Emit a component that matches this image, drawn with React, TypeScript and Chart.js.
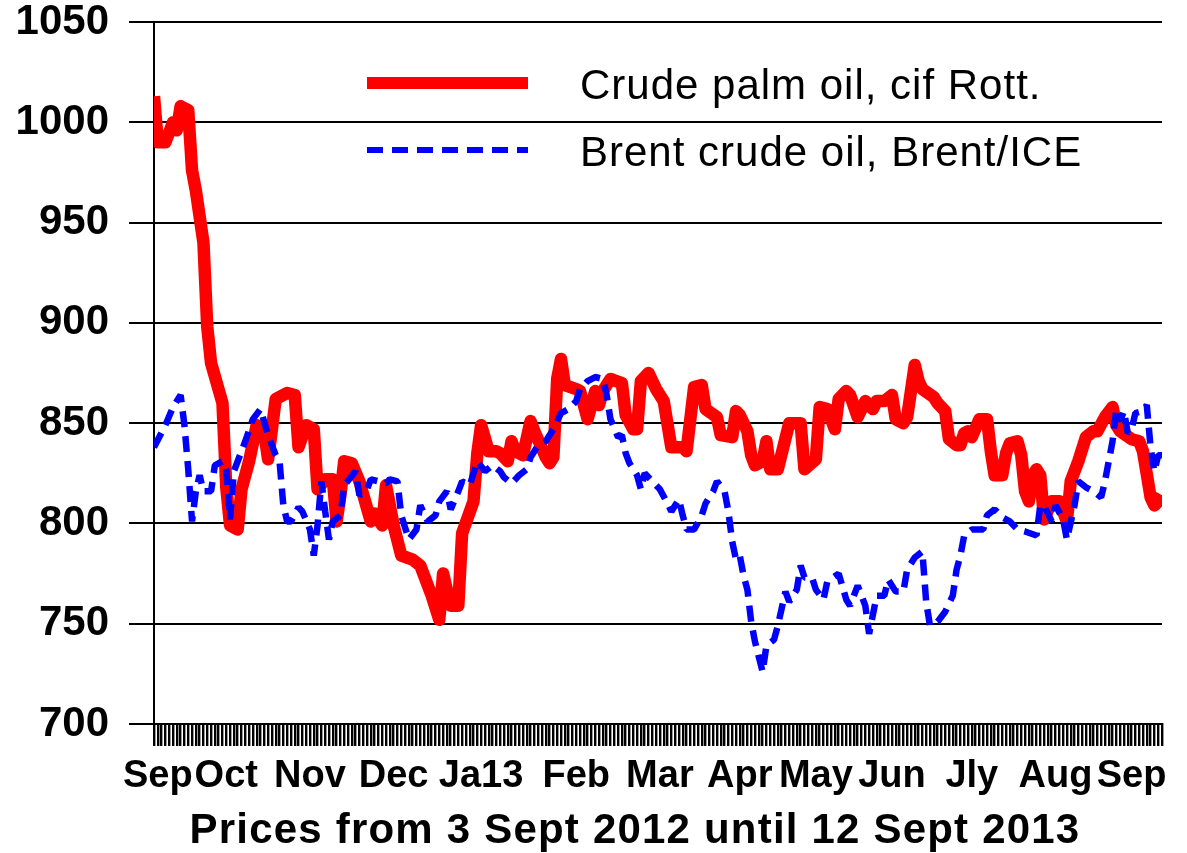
import React, { useEffect, useRef } from "react";
import { Chart, registerables } from "chart.js";

Chart.register(...registerables);

// Trading-day index (0 = 3 Sept 2012, 265 = 12 Sept 2013) and prices (USD/t)
const palmDays = [0,1,3,5,6,7,9,10,11,13,14,15,18,19,20,22,23,25,27,29,30,32,35,37,38,40,42,43,45,47,48,49,50,52,54,57,58,60,61,63,65,68,70,73,75,76,78,80,81,84,85,86,88,90,91,93,94,95,97,99,100,103,104,105,106,107,108,111,112,114,116,117,118,120,123,124,126,127,128,130,132,134,136,139,140,142,144,145,148,149,152,153,154,156,157,158,160,161,162,164,167,170,171,174,175,177,179,180,182,183,185,187,189,190,192,194,195,197,198,200,201,202,205,206,208,209,211,212,213,214,215,217,219,220,221,223,224,225,227,228,229,230,231,232,233,234,236,238,240,241,243,245,247,248,250,252,253,254,257,259,260,262,263,264,265];
const palmPrices = [1013,990,990,1000,996,1008,1006,976,966,940,898,880,860,818,799,797,817,831,849,845,832,862,865,864,838,849,847,817,822,822,801,814,831,830,821,801,805,799,819,799,784,782,779,764,752,775,759,759,795,811,835,849,836,836,835,831,841,836,834,851,846,833,830,833,872,882,869,867,866,852,866,859,866,872,870,854,847,847,871,875,867,861,838,838,836,868,869,857,853,844,843,856,854,846,834,829,831,841,827,827,850,850,827,832,858,857,847,862,866,864,853,861,857,861,861,864,852,850,853,879,871,867,863,860,856,842,839,839,845,846,843,852,852,836,824,824,835,840,841,834,816,811,824,827,824,802,811,811,801,821,831,843,846,846,853,858,849,846,842,841,836,813,809,811,814];

const brentDays = [0,3,5,7,8,9,10,11,12,13,15,16,18,19,20,21,22,24,26,28,30,32,33,34,35,36,38,39,41,42,43,44,45,46,47,49,50,53,54,56,57,59,61,62,64,65,67,69,70,72,74,75,77,78,80,81,83,85,87,89,91,92,94,96,98,99,101,103,105,107,109,111,112,114,116,118,119,120,122,123,124,125,127,128,129,131,133,135,136,138,139,140,142,144,145,147,148,150,151,152,153,154,155,156,157,158,160,161,163,164,166,167,169,170,171,173,174,176,177,180,182,183,185,187,188,190,192,193,195,197,198,200,202,203,204,206,208,210,211,212,213,215,218,219,221,223,225,227,229,232,233,234,236,237,239,240,242,243,245,247,249,250,251,252,253,254,255,256,257,258,260,261,262,263,264,265];
const brentPrices = [838,849,858,864,849,827,801,816,824,816,816,829,831,827,802,826,831,841,852,857,844,834,831,809,801,801,808,806,797,784,799,821,806,792,801,804,819,826,814,817,822,821,820,822,821,804,792,797,809,801,804,811,816,807,816,821,819,831,826,829,826,823,820,824,827,833,839,841,847,855,857,861,867,871,873,872,864,852,843,844,835,830,824,817,825,821,817,810,806,812,804,797,797,804,810,816,821,816,806,791,782,784,774,767,751,741,726,739,742,749,766,761,767,779,773,773,767,762,771,775,762,759,769,759,745,764,764,772,766,766,777,783,786,761,749,751,756,764,777,784,794,797,797,804,807,803,801,797,796,794,809,809,801,809,802,792,809,821,818,816,813,821,831,841,857,851,856,845,847,855,856,859,838,826,834,834];

const monthLabels = ["Sep","Oct","Nov","Dec","Ja13","Feb","Mar","Apr","May","Jun","Jly","Aug","Sep"];
const monthDays = [1,19,41,63,86,111,133,154,174,194,215,237,257];

const seriesNames = ["Crude palm oil, cif Rott.", "Brent crude oil, Brent/ICE"];
const axisTitle = "Prices from 3 Sept 2012 until 12 Sept 2013";

const FONT = "'Liberation Sans', Arial, Helvetica, sans-serif";

const overlayPlugin = {
  id: "overlay",
  afterDraw(chart: any) {
    const ctx = chart.ctx;
    const ds = chart.data.datasets;
    ctx.save();
    const rows = [
      { y: 83, ds: ds[0], w: 12 },
      { y: 150, ds: ds[1], w: 6 },
    ];
    rows.forEach((r) => {
      ctx.beginPath();
      ctx.strokeStyle = r.ds.borderColor;
      ctx.lineWidth = r.w;
      ctx.lineCap = "butt";
      ctx.setLineDash(r.ds.borderDash || []);
      ctx.moveTo(367, r.y);
      ctx.lineTo(528, r.y);
      ctx.stroke();
      ctx.setLineDash([]);
      ctx.fillStyle = "#000";
      ctx.font = `42px ${FONT}`;
      (ctx as any).letterSpacing = "1px";
      ctx.textAlign = "left";
      ctx.textBaseline = "alphabetic";
      ctx.fillText(r.ds.label, 580, r.y + 16);
    });
    ctx.font = `bold 42px ${FONT}`;
    (ctx as any).letterSpacing = "1.2px";
    ctx.textAlign = "center";
    ctx.textBaseline = "alphabetic";
    ctx.fillStyle = "#000";
    ctx.fillText(axisTitle, 635, 843);
    (ctx as any).letterSpacing = "0px";
    ctx.restore();
  },
};

export default function App() {
  const ref = useRef<HTMLCanvasElement>(null);
  useEffect(() => {
    document.body.style.margin = "0";
    const canvas = ref.current!;
    const chart = new Chart(canvas, {
      type: "line",
      data: {
        datasets: [
          {
            label: seriesNames[0],
            data: palmDays.map((d, i) => ({ x: d, y: palmPrices[i] })),
            borderColor: "#ff0000",
            borderWidth: 12.5,
            borderJoinStyle: "round",
            pointRadius: 0,
            tension: 0,
            fill: false,
            order: 2,
          },
          {
            label: seriesNames[1],
            data: brentDays.map((d, i) => ({ x: d, y: brentPrices[i] })),
            borderColor: "#0000ff",
            borderWidth: 6.5,
            borderDash: [16, 9],
            borderJoinStyle: "bevel",
            pointRadius: 0,
            tension: 0,
            fill: false,
            order: 1,
          },
        ],
      },
      options: {
        responsive: false,
        animation: false,
        events: [],
        layout: { padding: { top: 22, right: 25, left: 0, bottom: 0 } },
        plugins: {
          legend: { display: false },
          tooltip: { enabled: false },
          title: { display: false },
        },
        scales: {
          x: {
            type: "linear",
            min: 0,
            max: 265,
            afterFit: (s: any) => {
              s.height = 129;
              s.paddingLeft = 0;
              s.paddingRight = 0;
            },
            grid: {
              drawOnChartArea: false,
              drawTicks: true,
              tickLength: 22,
              color: "#000",
              lineWidth: 2.4,
            },
            border: { display: true, color: "#000", width: 2 },
            ticks: {
              stepSize: 1,
              autoSkip: false,
              maxRotation: 0,
              minRotation: 0,
              padding: 8,
              color: "#000",
              font: { family: FONT, size: 38, weight: "bold", lineHeight: 1.2 },
              callback: (v: any) => {
                const i = monthDays.indexOf(Number(v));
                return i >= 0 ? monthLabels[i] : "";
              },
            },
          },
          y: {
            min: 700,
            max: 1050,
            afterFit: (s: any) => {
              s.width = 154;
              s.paddingTop = 0;
              s.paddingBottom = 0;
            },
            grid: {
              color: "#000",
              lineWidth: 2,
              tickLength: 25,
              drawTicks: true,
            },
            border: { display: true, color: "#000", width: 2 },
            ticks: {
              stepSize: 50,
              padding: 20,
              color: "#000",
              font: { family: FONT, size: 42, weight: "bold", lineHeight: 1.0 },
              callback: (v: any) => String(v),
            },
          },
        },
      },
      plugins: [overlayPlugin],
    });
    return () => chart.destroy();
  }, []);
  return (
    <div style={{ width: 1187, height: 853 }}>
      <canvas ref={ref} width={1187} height={853} style={{ display: "block" }} />
    </div>
  );
}
